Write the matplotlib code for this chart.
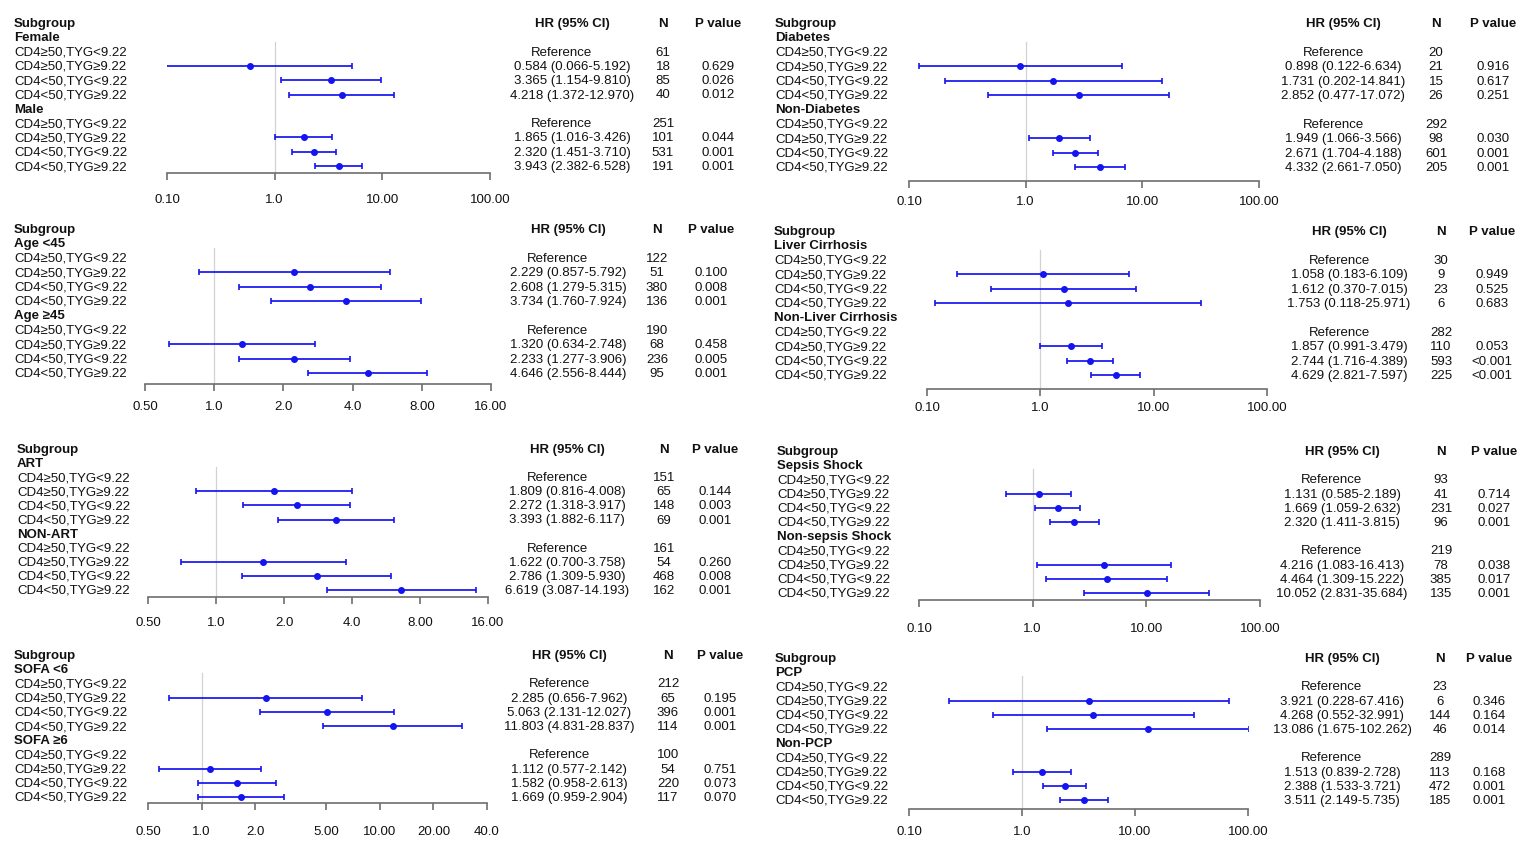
import numpy as np
import matplotlib
matplotlib.use('Agg')
import matplotlib.pyplot as plt
import matplotlib.transforms as mtransforms
from matplotlib.ticker import NullLocator

W, H = 1535, 854
plt.rcParams['font.family'] = ['Liberation Sans', 'DejaVu Sans']
FS = 9.5
BLUE = '#1414f0'

row_labels = ['CD4≥50,TYG<9.22', 'CD4≥50,TYG≥9.22', 'CD4<50,TYG<9.22', 'CD4<50,TYG≥9.22']
nan = np.nan

# --- data, one block per panel (first row of each group is the reference) ---
sex_groups = ['Female', 'Male']
sex_hr = [nan, 0.584, 3.365, 4.218, nan, 1.865, 2.320, 3.943]
sex_lo = [nan, 0.066, 1.154, 1.372, nan, 1.016, 1.451, 2.382]
sex_hi = [nan, 5.192, 9.810, 12.970, nan, 3.426, 3.710, 6.528]
sex_n = [61, 18, 85, 40, 251, 101, 531, 191]
sex_p = ['', '0.629', '0.026', '0.012', '', '0.044', '0.001', '0.001']

dm_groups = ['Diabetes', 'Non-Diabetes']
dm_hr = [nan, 0.898, 1.731, 2.852, nan, 1.949, 2.671, 4.332]
dm_lo = [nan, 0.122, 0.202, 0.477, nan, 1.066, 1.704, 2.661]
dm_hi = [nan, 6.634, 14.841, 17.072, nan, 3.566, 4.188, 7.050]
dm_n = [20, 21, 15, 26, 292, 98, 601, 205]
dm_p = ['', '0.916', '0.617', '0.251', '', '0.030', '0.001', '0.001']

age_groups = ['Age <45', 'Age ≥45']
age_hr = [nan, 2.229, 2.608, 3.734, nan, 1.320, 2.233, 4.646]
age_lo = [nan, 0.857, 1.279, 1.760, nan, 0.634, 1.277, 2.556]
age_hi = [nan, 5.792, 5.315, 7.924, nan, 2.748, 3.906, 8.444]
age_n = [122, 51, 380, 136, 190, 68, 236, 95]
age_p = ['', '0.100', '0.008', '0.001', '', '0.458', '0.005', '0.001']

lc_groups = ['Liver Cirrhosis', 'Non-Liver Cirrhosis']
lc_hr = [nan, 1.058, 1.612, 1.753, nan, 1.857, 2.744, 4.629]
lc_lo = [nan, 0.183, 0.370, 0.118, nan, 0.991, 1.716, 2.821]
lc_hi = [nan, 6.109, 7.015, 25.971, nan, 3.479, 4.389, 7.597]
lc_n = [30, 9, 23, 6, 282, 110, 593, 225]
lc_p = ['', '0.949', '0.525', '0.683', '', '0.053', '<0.001', '<0.001']

art_groups = ['ART', 'NON-ART']
art_hr = [nan, 1.809, 2.272, 3.393, nan, 1.622, 2.786, 6.619]
art_lo = [nan, 0.816, 1.318, 1.882, nan, 0.700, 1.309, 3.087]
art_hi = [nan, 4.008, 3.917, 6.117, nan, 3.758, 5.930, 14.193]
art_n = [151, 65, 148, 69, 161, 54, 468, 162]
art_p = ['', '0.144', '0.003', '0.001', '', '0.260', '0.008', '0.001']

ss_groups = ['Sepsis Shock', 'Non-sepsis Shock']
ss_hr = [nan, 1.131, 1.669, 2.320, nan, 4.216, 4.464, 10.052]
ss_lo = [nan, 0.585, 1.059, 1.411, nan, 1.083, 1.309, 2.831]
ss_hi = [nan, 2.189, 2.632, 3.815, nan, 16.413, 15.222, 35.684]
ss_n = [93, 41, 231, 96, 219, 78, 385, 135]
ss_p = ['', '0.714', '0.027', '0.001', '', '0.038', '0.017', '0.001']

sofa_groups = ['SOFA <6', 'SOFA ≥6']
sofa_hr = [nan, 2.285, 5.063, 11.803, nan, 1.112, 1.582, 1.669]
sofa_lo = [nan, 0.656, 2.131, 4.831, nan, 0.577, 0.958, 0.959]
sofa_hi = [nan, 7.962, 12.027, 28.837, nan, 2.142, 2.613, 2.904]
sofa_n = [212, 65, 396, 114, 100, 54, 220, 117]
sofa_p = ['', '0.195', '0.001', '0.001', '', '0.751', '0.073', '0.070']

pcp_groups = ['PCP', 'Non-PCP']
pcp_hr = [nan, 3.921, 4.268, 13.086, nan, 1.513, 2.388, 3.511]
pcp_lo = [nan, 0.228, 0.552, 1.675, nan, 0.839, 1.533, 2.149]
pcp_hi = [nan, 67.416, 32.991, 102.262, nan, 2.728, 3.721, 5.735]
pcp_n = [23, 6, 144, 46, 289, 113, 472, 185]
pcp_p = ['', '0.346', '0.164', '0.014', '', '0.168', '0.001', '0.001']

ticks_decade = [0.1, 1, 10, 100]
ticklabels_decade = ['0.10', '1.0', '10.00', '100.00']
ticks_double = [0.5, 1, 2, 4, 8, 16]
ticklabels_double = ['0.50', '1.0', '2.0', '4.0', '8.00', '16.00']
ticks_sofa = [0.5, 1, 2, 5, 10, 20, 40]
ticklabels_sofa = ['0.50', '1.0', '2.0', '5.00', '10.00', '20.00', '40.0']

# layout in pixels: label x, axis x0/x1, row0 y, row height, axis y, tick label y, hr/n/p centres
layouts = [
    dict(lx=14, x0=167, x1=490, y0=24, rh=14.3, ay=174, ty=201, hx=572, nx=663, px=718),
    dict(lx=775, x0=909, x1=1259, y0=24, rh=14.4, ay=182, ty=203, hx=1343, nx=1436, px=1493),
    dict(lx=14, x0=145, x1=491, y0=230, rh=14.4, ay=385, ty=408, hx=568, nx=657, px=711),
    dict(lx=774, x0=927, x1=1267, y0=232, rh=14.4, ay=390, ty=409, hx=1349, nx=1441, px=1492),
    dict(lx=17, x0=148, x1=488, y0=450, rh=14.1, ay=598, ty=624, hx=567, nx=664, px=715),
    dict(lx=777, x0=919, x1=1260, y0=452, rh=14.2, ay=601, ty=630, hx=1342, nx=1441, px=1494),
    dict(lx=14, x0=148, x1=487, y0=656, rh=14.2, ay=804, ty=833, hx=569, nx=668, px=720),
    dict(lx=775, x0=909, x1=1248, y0=659, rh=14.2, ay=810, ty=833, hx=1342, nx=1440, px=1489),
]

panels = [
    (sex_groups, sex_hr, sex_lo, sex_hi, sex_n, sex_p, ticks_decade, ticklabels_decade),
    (dm_groups, dm_hr, dm_lo, dm_hi, dm_n, dm_p, ticks_decade, ticklabels_decade),
    (age_groups, age_hr, age_lo, age_hi, age_n, age_p, ticks_double, ticklabels_double),
    (lc_groups, lc_hr, lc_lo, lc_hi, lc_n, lc_p, ticks_decade, ticklabels_decade),
    (art_groups, art_hr, art_lo, art_hi, art_n, art_p, ticks_double, ticklabels_double),
    (ss_groups, ss_hr, ss_lo, ss_hi, ss_n, ss_p, ticks_decade, ticklabels_decade),
    (sofa_groups, sofa_hr, sofa_lo, sofa_hi, sofa_n, sofa_p, ticks_sofa, ticklabels_sofa),
    (pcp_groups, pcp_hr, pcp_lo, pcp_hi, pcp_n, pcp_p, ticks_decade, ticklabels_decade),
]


def draw_panel(fig, lay, groups, hr, lo, hi, n, p, ticks, ticklabels):
    axis_row = (lay['ay'] - lay['y0']) / lay['rh']
    ax = fig.add_axes([lay['x0'] / W, 1 - lay['ay'] / H,
                       (lay['x1'] - lay['x0']) / W, (lay['ay'] - lay['y0']) / H])
    ax.set_xscale('log')
    ax.set_xlim(ticks[0], ticks[-1])
    ax.set_ylim(axis_row, 0)
    ax.patch.set_visible(False)
    for s in ['top', 'left', 'right']:
        ax.spines[s].set_visible(False)
    ax.spines['bottom'].set_color('#6e6e6e')
    ax.spines['bottom'].set_linewidth(1.2)
    ax.set_yticks([])
    ax.set_xticks(ticks)
    ax.set_xticklabels(ticklabels)
    ax.xaxis.set_minor_locator(NullLocator())
    gap = lay['ty'] - lay['ay']
    ax.tick_params(axis='x', direction='out', length=5, width=1.2, color='#6e6e6e',
                   labelsize=FS, labelcolor='#111111', pad=max(gap - 7 - 7.2, 1) * 0.72)

    # reference line at HR = 1
    ax.axvline(1, ymin=0, ymax=1 - 1.3 / axis_row, color='#d2d2d2', lw=0.9, zorder=1)

    tr = mtransforms.blended_transform_factory(fig.transFigure, ax.transData)
    txt = dict(transform=tr, fontsize=FS, color='#111111', va='center', clip_on=False)
    ax.text(lay['lx'] / W, 0, 'Subgroup', ha='left', fontweight='bold', **txt)
    ax.text(lay['hx'] / W, 0, 'HR (95% CI)', ha='center', fontweight='bold', **txt)
    ax.text(lay['nx'] / W, 0, 'N', ha='center', fontweight='bold', **txt)
    ax.text(lay['px'] / W, 0, 'P value', ha='center', fontweight='bold', **txt)

    for g, gname in enumerate(groups):
        gy = 1 + g * 5
        ax.text(lay['lx'] / W, gy, gname, ha='left', fontweight='bold', **txt)
        for i, lab in enumerate(row_labels):
            k = g * 4 + i
            y = gy + 1 + i
            ax.text(lay['lx'] / W, y, lab, ha='left', **txt)
            if np.isnan(hr[k]):
                ax.text((lay['hx'] - 10) / W, y, 'Reference', ha='center', **txt)
            else:
                ax.text(lay['hx'] / W, y, f'{hr[k]:.3f} ({lo[k]:.3f}-{hi[k]:.3f})', ha='center', **txt)
                ax.errorbar([hr[k]], [y], xerr=[[hr[k] - lo[k]], [hi[k] - hr[k]]], fmt='o',
                            color=BLUE, ms=4.0, elinewidth=1.25, capsize=2.4, capthick=1.2, zorder=3)
            ax.text(lay['nx'] / W, y, str(n[k]), ha='center', **txt)
            ax.text(lay['px'] / W, y, p[k], ha='center', **txt)
    return ax


fig = plt.figure(figsize=(W / 100, H / 100), dpi=100)
fig.patch.set_facecolor('white')
for lay, pan in zip(layouts, panels):
    draw_panel(fig, lay, *pan)

fig.savefig('out.png', dpi=100, facecolor='white')
